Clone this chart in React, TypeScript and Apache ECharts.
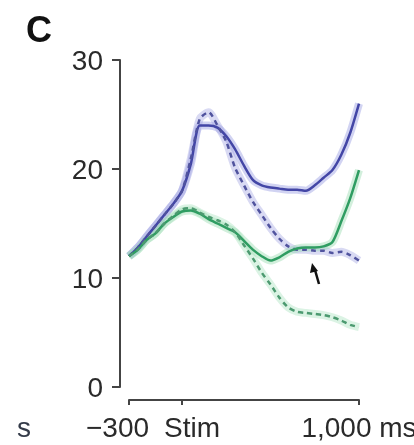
import React, { useEffect, useRef } from 'react';
import * as echarts from 'echarts';

const timeMs = [-300, -250, -200, -150, -100, -50, 0, 50, 100, 150, 200, 250, 300, 350, 400, 450, 500, 550, 600, 650, 700, 750, 800, 850, 900, 950, 1000];
const blueSolid = [12.0, 12.8, 13.8, 14.8, 15.8, 16.8, 18.0, 20.5, 24.0, 24.0, 23.8, 23.0, 21.8, 20.3, 19.0, 18.5, 18.3, 18.2, 18.1, 18.1, 18.0, 18.5, 19.2, 19.9, 21.3, 23.3, 26.0];
const blueDashed = [12.0, 12.8, 13.8, 14.8, 15.8, 16.8, 18.0, 21.0, 24.6, 25.2, 24.0, 22.5, 20.1, 18.5, 17.0, 15.8, 14.6, 13.6, 12.9, 12.6, 12.6, 12.5, 12.5, 12.3, 12.4, 12.1, 11.6];
const greenSolid = [12.0, 12.6, 13.5, 14.1, 15.0, 15.6, 16.1, 16.2, 15.9, 15.4, 15.0, 14.6, 14.2, 13.4, 12.6, 12.0, 11.6, 11.9, 12.4, 12.7, 12.8, 12.8, 12.9, 13.3, 15.2, 17.3, 19.9];
const greenDashed = [12.0, 12.6, 13.5, 14.1, 15.0, 15.7, 16.3, 16.4, 16.0, 15.6, 15.3, 14.9, 14.2, 13.0, 11.8, 10.5, 9.4, 8.2, 7.3, 6.9, 6.8, 6.7, 6.6, 6.4, 6.1, 5.7, 5.5];

const yTicks = [0, 10, 20, 30];
const xTickValues = [-300, 0, 1000];
const xTickLabels = ['−300', 'Stim', '1,000 ms'];

const FONT = 'Liberation Sans, Arial, Helvetica, sans-serif';
const AXIS = '#444444';
const TEXT = '#2a2a2a';
const FS = 28;

export default function App() {
  const ref = useRef<HTMLDivElement>(null);
  useEffect(() => {
    const chart = echarts.init(ref.current!, null, { renderer: 'svg' });
    const pair = (vals: number[]) => timeMs.map((t, i) => [t, vals[i]]);

    const lines = [
      { name: 'blueSolid', data: blueSolid, color: '#4346a6', halo: '#8d90de', dashed: false },
      { name: 'blueDashed', data: blueDashed, color: '#50539e', halo: '#9fa2e2', dashed: true },
      { name: 'greenSolid', data: greenSolid, color: '#2f9d62', halo: '#8ed7a8', dashed: false },
      { name: 'greenDashed', data: greenDashed, color: '#4c9a70', halo: '#a6e0bc', dashed: true },
    ];

    const series: any[] = [];
    lines.forEach((l) => {
      series.push({
        type: 'line',
        name: l.name + 'Band',
        data: pair(l.data),
        smooth: 0.25,
        showSymbol: false,
        silent: true,
        z: 1,
        lineStyle: { color: l.halo, width: 8, opacity: 0.4 },
      });
    });
    lines.forEach((l) => {
      series.push({
        type: 'line',
        name: l.name,
        data: pair(l.data),
        smooth: 0.25,
        showSymbol: false,
        z: 3,
        lineStyle: {
          color: l.color,
          width: 2.5,
          type: l.dashed ? [5, 4] : 'solid',
        },
      });
    });

    chart.setOption({
      animation: false,
      grid: { left: 129, top: 60, width: 230, height: 327 },
      xAxis: {
        type: 'value',
        min: -300,
        max: 1000,
        offset: 13,
        splitLine: { show: false },
        axisLine: { show: true, onZero: false, lineStyle: { color: AXIS, width: 2 } },
        axisTick: { show: true, customValues: xTickValues, length: 5, lineStyle: { color: AXIS, width: 2 } },
        axisLabel: {
          customValues: xTickValues,
          margin: 13,
          color: TEXT,
          fontSize: FS,
          fontFamily: FONT,
          formatter: (v: number) => {
            const i = xTickValues.indexOf(v);
            const key = i === 0 ? 'l' : i === 1 ? 's' : 'e';
            return '{' + key + '|' + xTickLabels[i] + '}';
          },
          rich: {
            l: { fontSize: FS, fontFamily: FONT, color: TEXT, padding: [0, 23, 0, 0] },
            s: { fontSize: FS, fontFamily: FONT, color: TEXT, padding: [0, 0, 0, 20] },
            e: { fontSize: FS, fontFamily: FONT, color: TEXT, padding: [0, 0, 0, 0] },
          },
        },
      },
      yAxis: {
        type: 'value',
        min: 0,
        max: 30,
        interval: 10,
        offset: 9,
        splitLine: { show: false },
        axisLine: { show: true, onZero: false, lineStyle: { color: AXIS, width: 2 } },
        axisTick: { show: true, length: 8, lineStyle: { color: AXIS, width: 2 } },
        axisLabel: {
          customValues: yTicks,
          margin: 17,
          color: TEXT,
          fontSize: FS,
          fontFamily: FONT,
        },
      },
      graphic: [
        {
          type: 'text',
          x: 26,
          y: 29,
          style: { text: 'C', fontSize: 36, fontWeight: 'bold', fontFamily: FONT, fill: '#111', textVerticalAlign: 'middle' },
        },
        {
          type: 'text',
          x: 31,
          y: 427,
          style: { text: 's', fontSize: FS, fontFamily: FONT, fill: '#333a48', textAlign: 'right', textVerticalAlign: 'middle' },
        },
        {
          type: 'line',
          shape: { x1: 315, y1: 270, x2: 319, y2: 284 },
          style: { stroke: '#111', lineWidth: 2.5 },
        },
        {
          type: 'polygon',
          shape: { points: [[310, 273], [318, 271], [312, 263]] },
          style: { fill: '#111' },
        },
      ],
      series,
    });
    return () => chart.dispose();
  }, []);
  return <div ref={ref} style={{ position: 'fixed', left: 0, top: 0, width: 460, height: 445 }} />;
}
